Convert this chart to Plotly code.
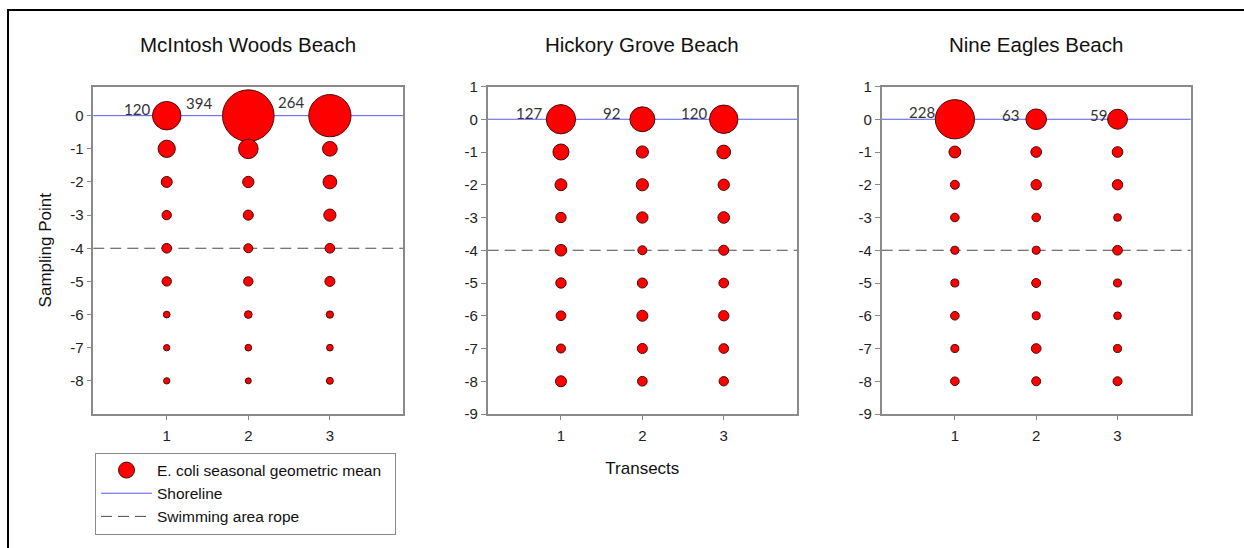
import plotly.graph_objects as go

# ---- data -------------------------------------------------------------
BEACHES = ["McIntosh Woods Beach", "Hickory Grove Beach", "Nine Eagles Beach"]
TRANSECTS = [1, 2, 3]
SAMPLING_POINTS = [0, -1, -2, -3, -4, -5, -6, -7, -8]

# E. coli seasonal geometric means: one list per transect,
# ordered by sampling point 0, -1, ..., -8
mcintosh = [
    [120, 44, 18, 13, 14, 13, 6.6, 5.9, 5.9],
    [394, 57, 19, 15, 12, 13, 8.8, 6.6, 5.3],
    [264, 32, 28, 22, 14, 15, 7.9, 6.6, 7.2],
]
hickory = [
    [127, 38, 21, 16, 20, 16, 14, 12, 18],
    [92, 22, 22, 19, 12, 15, 18, 15, 14],
    [120, 28, 19, 20, 15, 14, 16, 14, 13],
]
nine_eagles = [
    [228, 21, 12, 11, 9.5, 9.5, 11, 9.5, 11],
    [63, 17, 16, 11, 9.5, 12, 9.5, 14, 12],
    [59, 17, 16, 8.8, 14, 9.5, 8.8, 9.5, 12],
]
BEACH_VALUES = [mcintosh, hickory, nine_eagles]

SHORELINE_Y = 0
ROPE_Y = -4

# ---- styling / layout -------------------------------------------------
W, H = 1244, 548
FONT = "Liberation Sans, Arial, sans-serif"
RED = "#ff0000"
EDGE = "#4a0a0a"
FRAME = "#8a8a8a"
SHORE_COLOR = "#5a5af0"
ROPE_COLOR = "#4a4a4a"
SIZEREF = 0.296  # area-mode bubble scale

# plot-area domains in pixels (left, right) and (top, bottom)
X_PX = [(93.3, 403.3), (487.7, 797.0), (881.7, 1190.7)]
Y_PX = (86.5, 414.0)
Y_RANGES = [[-9, 0.88], [-9, 1], [-9, 1]]
Y_TICKS = [list(range(0, -9, -1)), list(range(1, -10, -1)), list(range(1, -10, -1))]

# pixel offsets for the value labels beside the shoreline bubbles
LABEL_SHIFT = [
    [(-15, 7), (-34, 13), (-24, 14)],
    [(-17, 6), (-20, 6), (-15, 6)],
    [(-18, 7), (-15, 4), (-9, 4)],
]

fig = go.Figure()

for b, (name, vals) in enumerate(zip(BEACHES, BEACH_VALUES)):
    xs, ys, zs = [], [], []
    for t, col in zip(TRANSECTS, vals):
        for p, v in zip(SAMPLING_POINTS, col):
            xs.append(t)
            ys.append(p)
            zs.append(v)
    sfx = "" if b == 0 else str(b + 1)
    fig.add_trace(go.Scatter(
        x=xs, y=ys, mode="markers",
        xaxis="x" + sfx, yaxis="y" + sfx,
        marker=dict(size=zs, sizemode="area", sizeref=SIZEREF, opacity=1,
                    color=RED, line=dict(color=EDGE, width=1)),
        showlegend=False,
        hovertemplate="Transect %{x}<br>Point %{y}<br>%{marker.size}<extra></extra>",
    ))
    # value labels for the shoreline samples
    for t, col, (dx, dy) in zip(TRANSECTS, vals, LABEL_SHIFT[b]):
        fig.add_annotation(
            x=t, y=SHORELINE_Y, xref="x" + sfx, yref="y" + sfx,
            text=f"{col[0]:g}", showarrow=False,
            xanchor="right", yanchor="middle", xshift=dx, yshift=dy,
            font=dict(family="Lato, Open Sans, sans-serif", size=15, color="#333333"),
        )
    # shoreline and swimming area rope
    fig.add_shape(type="line", xref=f"x{sfx} domain", yref="y" + sfx,
                  x0=0, x1=1, y0=SHORELINE_Y, y1=SHORELINE_Y, layer="below",
                  line=dict(color=SHORE_COLOR, width=1))
    fig.add_shape(type="line", xref=f"x{sfx} domain", yref="y" + sfx,
                  x0=0, x1=1, y0=ROPE_Y, y1=ROPE_Y, layer="below",
                  line=dict(color=ROPE_COLOR, width=1, dash="11px,6px"))

    x0, x1 = X_PX[b]
    axis_common = dict(
        showline=True, mirror=True, linecolor=FRAME, linewidth=1.6,
        showgrid=False, zeroline=False, ticks="outside", tickcolor=FRAME,
        tickfont=dict(family=FONT, size=15, color="#222222"),
    )
    fig.update_layout(**{
        "xaxis" + sfx: dict(
            domain=[x0 / W, x1 / W], range=[0.1, 3.9],
            tickvals=TRANSECTS, ticktext=[str(t) for t in TRANSECTS],
            ticklen=4, ticklabelstandoff=3, anchor="y" + sfx,
            automargin=(b == 1), **axis_common),
        "yaxis" + sfx: dict(
            domain=[1 - Y_PX[1] / H, 1 - Y_PX[0] / H], range=Y_RANGES[b],
            tickvals=Y_TICKS[b], ticktext=[str(v) for v in Y_TICKS[b]],
            ticklen=5, anchor="x" + sfx,
            automargin=(b == 0), **axis_common),
    })
    fig.add_annotation(
        x=(x0 + x1) / 2 / W, y=1 - 45 / H, xref="paper", yref="paper",
        text=name, showarrow=False, xanchor="center", yanchor="middle",
        font=dict(family=FONT, size=20.5, color="#111111"),
    )

fig.update_layout(
    yaxis_title=dict(text="Sampling Point", font=dict(family=FONT, size=17, color="#111111"), standoff=14),
    xaxis2_title=dict(text="Transects", font=dict(family=FONT, size=17, color="#111111"), standoff=19),
)

# legend entries
fig.add_trace(go.Scatter(
    x=[None], y=[None], mode="markers", name="E. coli seasonal geometric mean\u00a0\u00a0",
    marker=dict(size=16, color=RED, opacity=1, line=dict(color=EDGE, width=1)),
))
fig.add_trace(go.Scatter(
    x=[None], y=[None], mode="lines", name="Shoreline",
    line=dict(color=SHORE_COLOR, width=1),
))
fig.add_trace(go.Scatter(
    x=[None], y=[None], mode="lines", name="Swimming area rope",
    line=dict(color=ROPE_COLOR, width=1, dash="11px,6px"),
))

# outer frame (top and left edges)
fig.add_shape(type="line", xref="paper", yref="paper",
              x0=7 / W, x1=1, y0=1 - 10 / H, y1=1 - 10 / H,
              line=dict(color="black", width=2))
fig.add_shape(type="line", xref="paper", yref="paper",
              x0=8 / W, x1=8 / W, y0=0, y1=1 - 10 / H,
              line=dict(color="black", width=2))

fig.update_layout(
    width=W, height=H,
    margin=dict(l=0, r=0, t=0, b=0, autoexpand=False),
    paper_bgcolor="white", plot_bgcolor="white",
    font=dict(family=FONT, color="#111111"),
    showlegend=True,
    legend=dict(
        x=95 / W, y=1 - 452.5 / H, xanchor="left", yanchor="top",
        bordercolor=FRAME, borderwidth=1, bgcolor="white",
        font=dict(family=FONT, size=15.5, color="#111111"),
        itemwidth=51, tracegroupgap=0,
    ),
)

fig.write_html("out.html")
